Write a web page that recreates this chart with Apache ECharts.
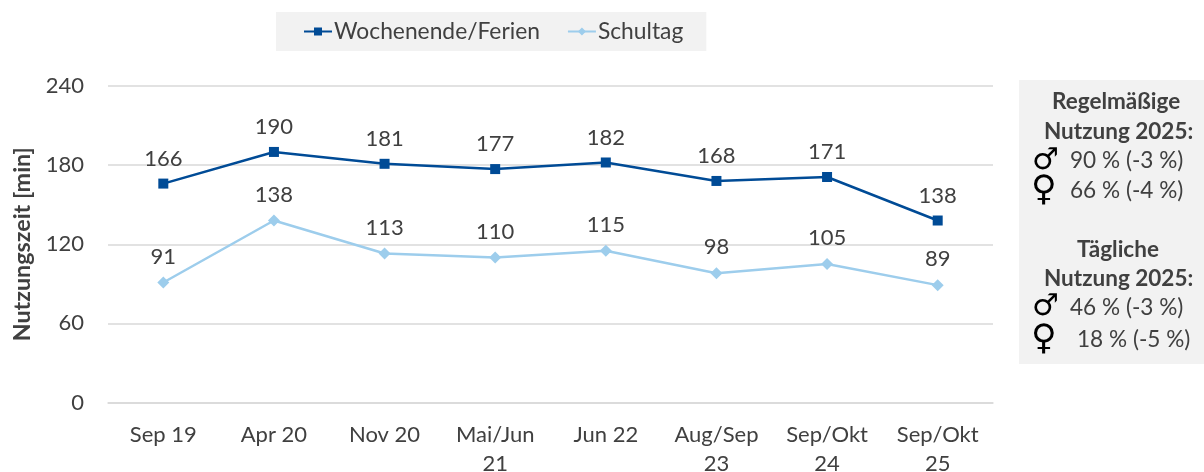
<!DOCTYPE html>
<html><head><meta charset="utf-8">
<style>html,body{margin:0;padding:0;background:#fff}#c{width:1204px;height:472px}</style>
<script src="https://cdn.jsdelivr.net/npm/echarts@6/dist/echarts.min.js"></script>
</head><body><div id="c"></div>
<script>
const categories = ['Sep 19','Apr 20','Nov 20','Mai/Jun\n21','Jun 22','Aug/Sep\n23','Sep/Okt\n24','Sep/Okt\n25'];
const wochenende = [166,190,181,177,182,168,171,138];
const schultag = [91,138,113,110,115,98,105,89];
const yTicks = {min:0,max:240,interval:60};
const FONT = 'Lato, "Open Sans", sans-serif';
const TXT = '#404040';
const chart = echarts.init(document.getElementById('c'),null,{renderer:'canvas'});
const sideText = (t,x,y,o)=>({type:'text',x,y,style:Object.assign({text:t,font:'22.6px '+FONT,fill:TXT,textAlign:'left',textVerticalAlign:'middle'},o||{})});
const bold = 'bold 22.5px '+FONT, sym='30px "DejaVu Sans"', symF='35px "DejaVu Sans"';
chart.setOption({
  animation:false,
  grid:{left:108,right:211,top:86,bottom:69.5,outerBoundsMode:'none'},
  legend:{
    left:276,top:12,padding:[8,23,8,27],
    backgroundColor:'#f2f2f2',itemWidth:28,itemHeight:10,itemGap:27,
    textStyle:{fontFamily:FONT,fontSize:22.8,color:TXT,padding:[0,0,0,-3],height:22,lineHeight:22},
    data:['Wochenende/Ferien','Schultag']
  },
  xAxis:{type:'category',data:categories,boundaryGap:true,
    axisLine:{show:true,lineStyle:{color:'#d9d9d9',width:1.5}},axisTick:{show:false},
    axisLabel:{fontFamily:FONT,fontSize:22,color:TXT,margin:18,lineHeight:29,interval:0,verticalAlign:'top'}},
  yAxis:{type:'value',min:yTicks.min,max:yTicks.max,interval:yTicks.interval,
    name:'Nutzungszeit [min]',nameLocation:'middle',nameGap:74,
    nameTextStyle:{fontFamily:FONT,fontSize:23.3,fontWeight:'bold',color:TXT},
    axisLine:{show:false},axisTick:{show:false},
    splitLine:{lineStyle:{color:'#d9d9d9',width:1.5}},
    axisLabel:{fontFamily:FONT,fontSize:22,color:TXT,margin:24}},
  series:[
    {name:'Wochenende/Ferien',type:'line',data:wochenende,symbol:'rect',symbolSize:10,
     lineStyle:{color:'#004b96',width:2.5},itemStyle:{color:'#004b96'},
     label:{show:true,position:'top',distance:9,fontFamily:FONT,fontSize:22,color:TXT}},
    {name:'Schultag',type:'line',data:schultag,symbol:'diamond',symbolSize:12,
     lineStyle:{color:'#9dcdec',width:2.5},itemStyle:{color:'#9dcdec'},
     label:{show:true,position:'top',distance:9,fontFamily:FONT,fontSize:22,color:TXT}}
  ],
  graphic:[
    {type:'rect',shape:{x:1019,y:80,width:185,height:284},style:{fill:'#f2f2f2'}},
    sideText('Regelmäßige',1052,102,{font:bold}),
    sideText('Nutzung 2025:',1044,132,{font:bold}),
    sideText('♂',1032,161,{font:sym,fill:'#000'}),
    sideText('90 % (-3 %)',1070,161),
    sideText('♀',1031,191,{font:symF,fill:'#000'}),
    sideText('66 % (-4 %)',1070,191),
    sideText('Tägliche',1077,250,{font:bold}),
    sideText('Nutzung 2025:',1044,279,{font:bold}),
    sideText('♂',1032,307,{font:sym,fill:'#000'}),
    sideText('46 % (-3 %)',1070,308),
    sideText('♀',1031,340,{font:symF,fill:'#000'}),
    sideText('18 % (-5 %)',1077,340)
  ]
});
</script></body></html>
